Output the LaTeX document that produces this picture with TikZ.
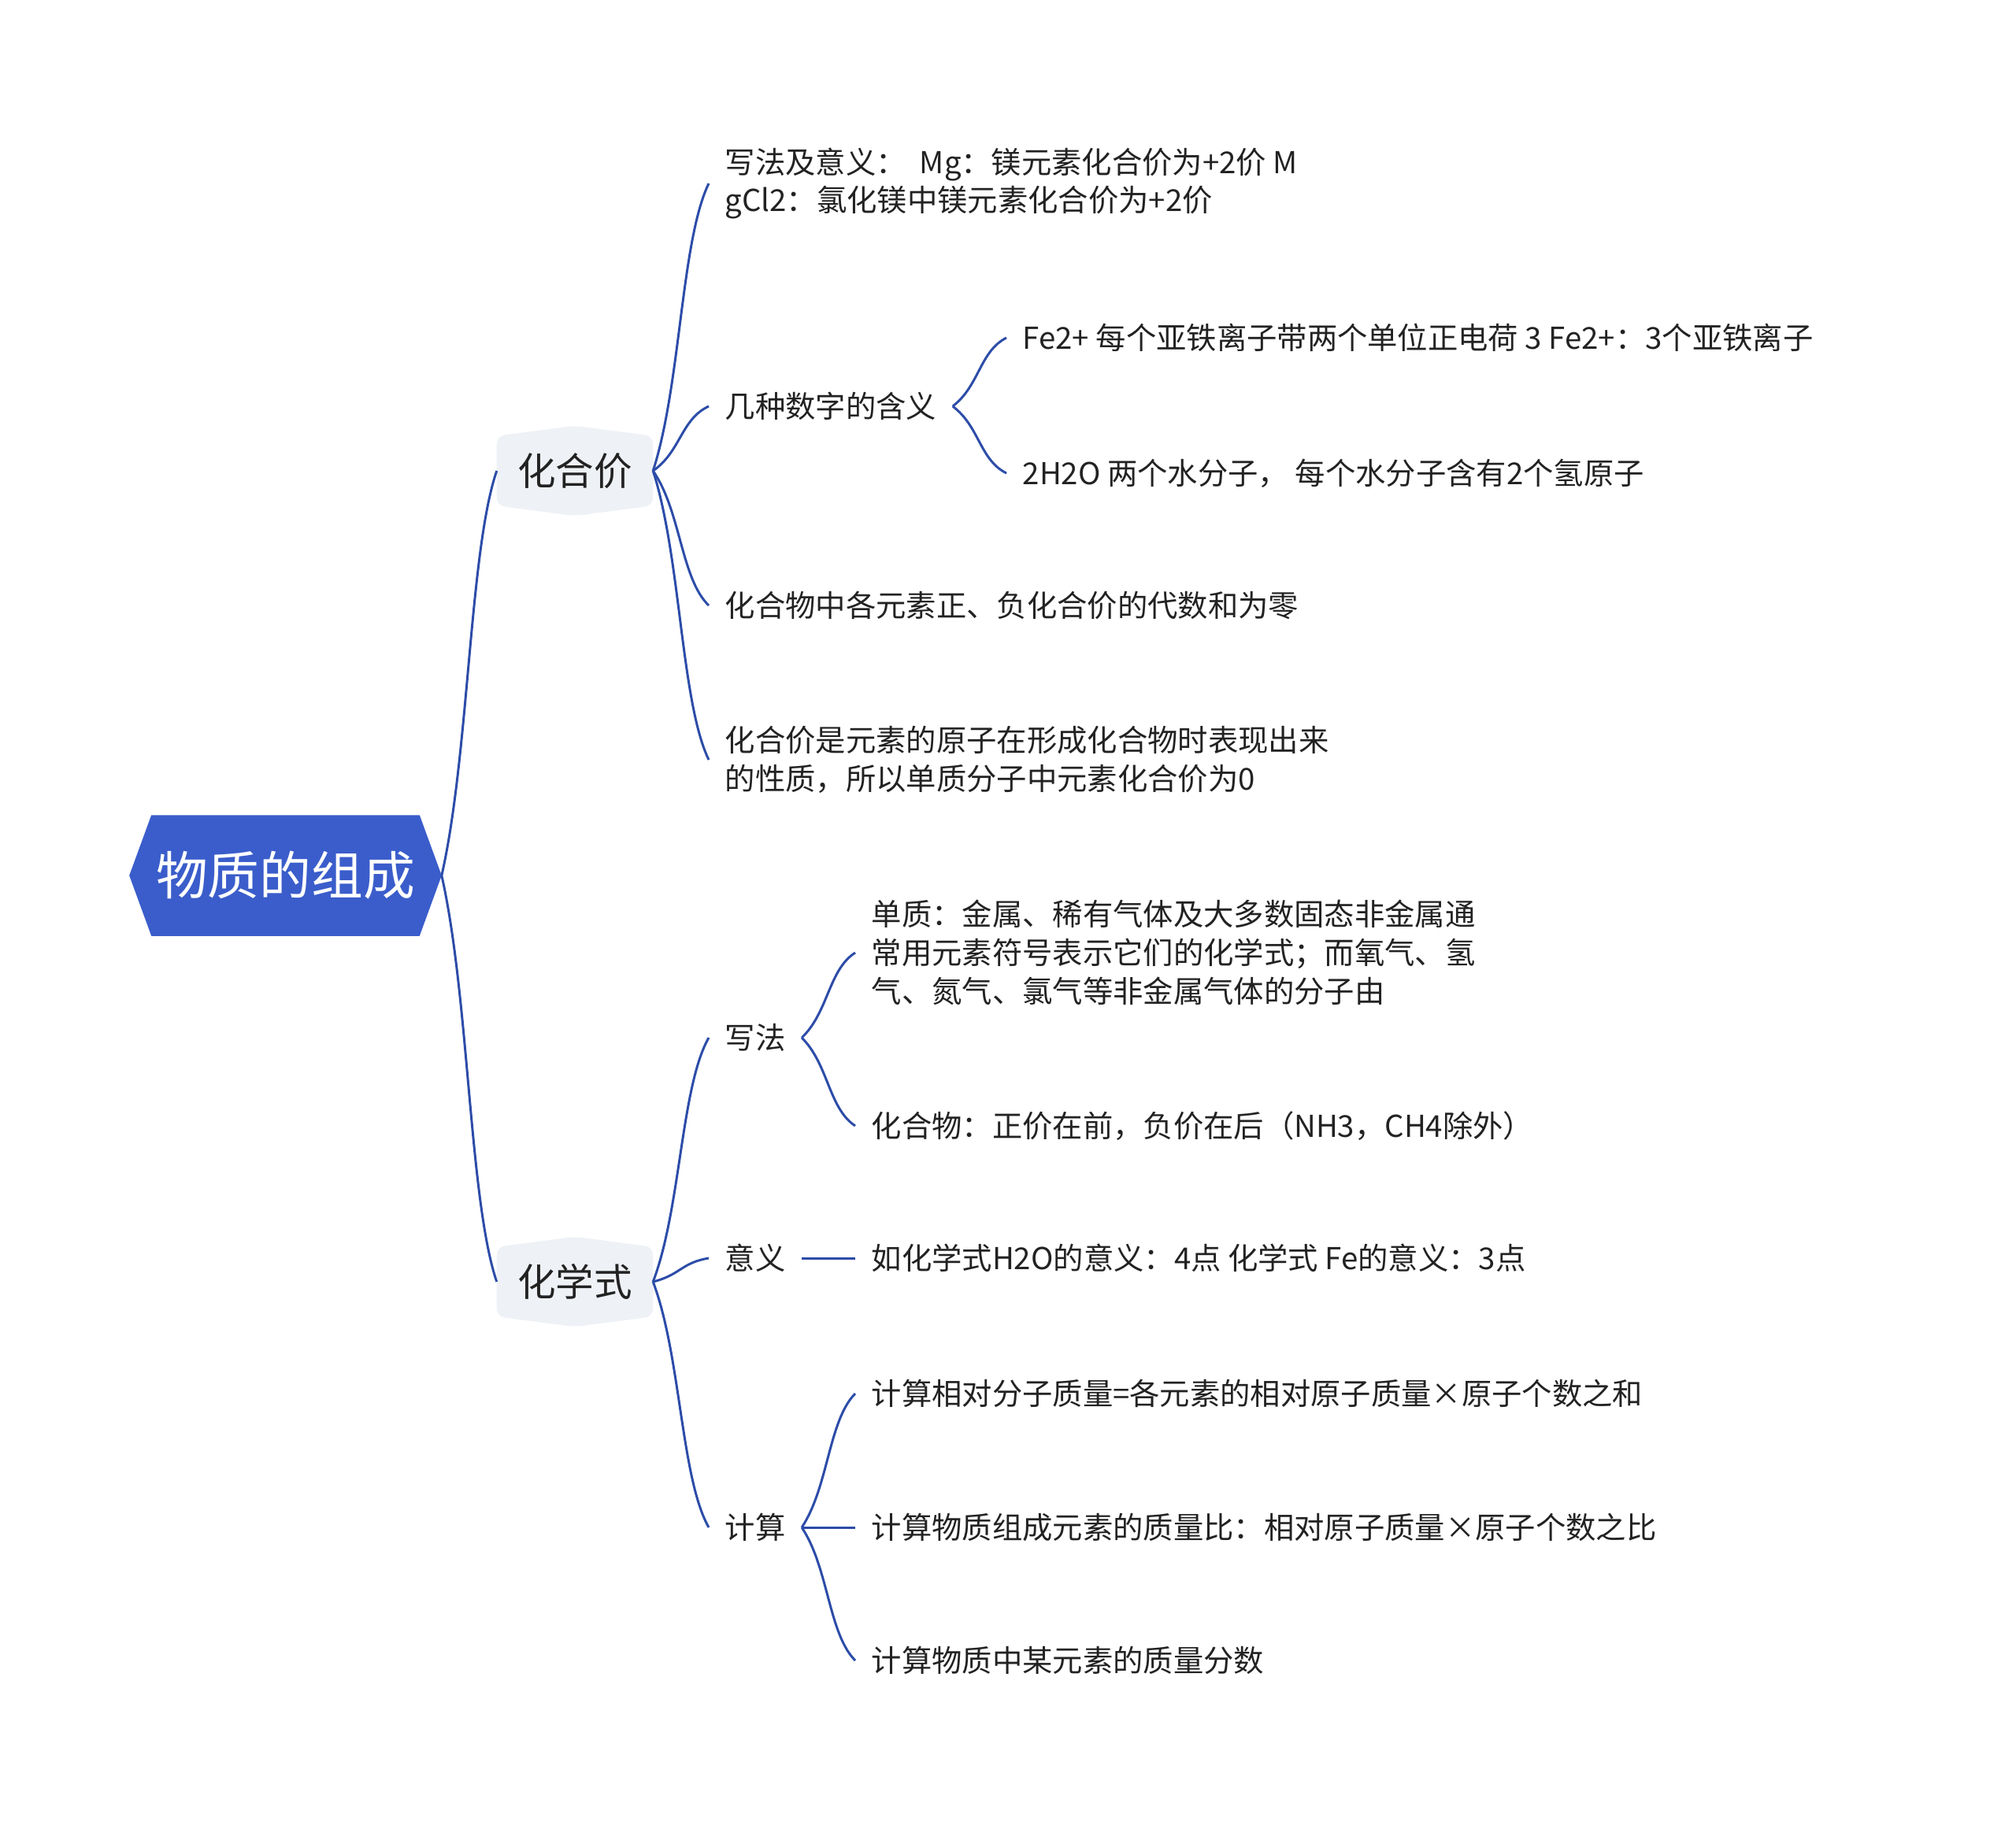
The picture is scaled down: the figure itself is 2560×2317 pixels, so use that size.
\documentclass[tikz,border=0pt]{standalone}
\usepackage{fontspec}
\setmainfont{Noto Sans CJK SC}
\usetikzlibrary{calc,backgrounds}
\definecolor{mmblue}{HTML}{3A5DCB}
\definecolor{mmline}{HTML}{2C4CA8}
\definecolor{mmfill}{HTML}{EEF1F5}
\definecolor{mmtext}{HTML}{222222}

\begin{document}
\begin{tikzpicture}[
  x=0.01cm, y=-0.01cm,
  rootbox/.style={minimum width=3.95cm, minimum height=1.52cm, inner sep=0pt, text=white, font=\fontsize{18.7}{22}\selectfont},
  topic/.style={minimum width=1.97cm, minimum height=1.13cm, inner sep=0pt, text=mmtext, font=\fontsize{13.8}{16}\selectfont},
  leaf/.style={anchor=west, inner xsep=0.2cm, inner ysep=0.05cm, align=left, text=mmtext, font=\fontsize{10.9}{13.9}\selectfont},
  link/.style={draw=mmline, line width=0.85pt},
  curvy/.style={to path={let \p1=(\tikztostart), \p2=(\tikztotarget), \n1={\x2-\x1}, \n2={\y2-\y1} in
    .. controls (\x1+0.5*\n1, \y1+0.3*\n2) and (\x2-0.5*\n1, \y2-0.2*\n2) .. (\tikztotarget)}}
]
\useasboundingbox (0,0) rectangle (2560,2317);

\node[rootbox] (root) at (362.5,1112) {物质的组成};
\node[topic] (hj) at (730,598) {化合价};
\node[topic] (hx) at (730,1628) {化学式};

% 化合价
\node[leaf] (xf) at (900,233) {写法及意义：\ \ Mg：镁元素化合价为+2价 M\\gCl2：氯化镁中镁元素化合价为+2价};
\node[leaf] (js) at (900,516) {几种数字的含义};
\node[leaf] (fe) at (1278,429) {Fe2+ 每个亚铁离子带两个单位正电荷 3 Fe2+：3个亚铁离子};
\node[leaf] (wa) at (1278,601) {2H2O 两个水分子， 每个水分子含有2个氢原子};
\node[leaf] (hw) at (900,769) {化合物中各元素正、负化合价的代数和为零};
\node[leaf] (hs) at (900,965) {化合价是元素的原子在形成化合物时表现出来\\的性质，所以单质分子中元素化合价为0};

% 化学式
\node[leaf] (xx) at (900,1318) {写法};
\node[leaf] (dz) at (1086,1210) {单质：金属、稀有气体及大多数固态非金属通\\常用元素符号表示它们的化学式；而氧气、氢\\气、氮气、氯气等非金属气体的分子由};
\node[leaf] (hh) at (1086,1430) {化合物：正价在前，负价在后（NH3，CH4除外）};
\node[leaf] (yy) at (900,1598) {意义};
\node[leaf] (yc) at (1086,1598) {如化学式H2O的意义：4点 化学式 Fe的意义：3点};
\node[leaf] (jc) at (900,1940) {计算};
\node[leaf] (c1) at (1086,1770) {计算相对分子质量=各元素的相对原子质量×原子个数之和};
\node[leaf] (c2) at (1086,1940) {计算物质组成元素的质量比：相对原子质量×原子个数之比};
\node[leaf] (c3) at (1086,2109) {计算物质中某元素的质量分数};

\begin{scope}[on background layer]
\fill[mmblue] (root.west) -- ([xshift=0.28cm]root.north west) -- ([xshift=-0.28cm]root.north east)
  -- (root.east) -- ([xshift=-0.28cm]root.south east) -- ([xshift=0.28cm]root.south west) -- cycle;
\foreach \t in {hj,hx}
  \fill[mmfill, rounded corners=0.1cm] ([yshift=-0.13cm]\t.north west) -- (\t.north) -- ([yshift=-0.13cm]\t.north east)
    -- ([yshift=0.13cm]\t.south east) -- (\t.south) -- ([yshift=0.13cm]\t.south west) -- cycle;
\end{scope}

\draw[link] (root.east) to[curvy] (hj.west);
\draw[link] (root.east) to[curvy] (hx.west);
\draw[link] (hj.east) to[curvy] (xf.west);
\draw[link] (hj.east) to[curvy] (js.west);
\draw[link] (hj.east) to[curvy] (hw.west);
\draw[link] (hj.east) to[curvy] (hs.west);
\draw[link] (js.east) to[curvy] (fe.west);
\draw[link] (js.east) to[curvy] (wa.west);
\draw[link] (hx.east) to[curvy] (xx.west);
\draw[link] (hx.east) to[curvy] (yy.west);
\draw[link] (hx.east) to[curvy] (jc.west);
\draw[link] (xx.east) to[curvy] (dz.west);
\draw[link] (xx.east) to[curvy] (hh.west);
\draw[link] (yy.east) -- (yc.west);
\draw[link] (jc.east) to[curvy] (c1.west);
\draw[link] (jc.east) to[curvy] (c2.west);
\draw[link] (jc.east) to[curvy] (c3.west);
\end{tikzpicture}
\end{document}
